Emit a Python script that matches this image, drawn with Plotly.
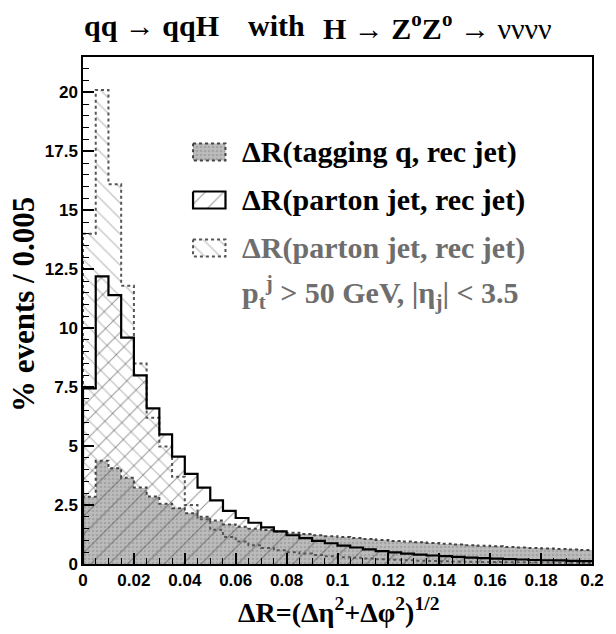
import numpy as np
import plotly.graph_objects as go

# ---------------- data ----------------
bin_width = 0.005
n_bins = 40
edges = [round(i * bin_width, 3) for i in range(n_bins + 1)]
centers = [round((i + 0.5) * bin_width, 4) for i in range(n_bins)]

# dR(tagging q, rec jet)  (grey filled)
tagging_q = [2.85, 4.38, 4.06, 3.66, 3.24, 2.86, 2.55, 2.36, 2.15, 2.00,
             1.84, 1.68, 1.58, 1.50, 1.44, 1.38, 1.32, 1.27, 1.22, 1.18,
             1.14, 1.10, 1.06, 1.02, 0.98, 0.95, 0.92, 0.89, 0.86, 0.83,
             0.80, 0.77, 0.75, 0.72, 0.70, 0.68, 0.66, 0.64, 0.62, 0.59]
# dR(parton jet, rec jet)  (black, '/' hatch)
parton_jet = [7.45, 12.2, 11.4, 9.6, 8.0, 6.6, 5.5, 4.55, 3.82, 3.24,
              2.70, 2.25, 1.95, 1.75, 1.55, 1.38, 1.22, 1.10, 0.98, 0.88,
              0.78, 0.70, 0.62, 0.55, 0.49, 0.44, 0.40, 0.36, 0.33, 0.30,
              0.27, 0.25, 0.23, 0.21, 0.19, 0.17, 0.16, 0.15, 0.13, 0.12]
# dR(parton jet, rec jet) with pt / eta cuts (grey, '\' hatch)
parton_jet_cut = [14.0, 20.1, 16.1, 11.8, 8.5, 6.2, 4.98, 3.7, 2.5, 1.9,
                  1.45, 1.15, 0.95, 0.80, 0.68, 0.58, 0.50, 0.44, 0.38, 0.33,
                  0.29, 0.26, 0.23, 0.20, 0.18, 0.16, 0.14, 0.13, 0.12, 0.11,
                  0.10, 0.09, 0.08, 0.07, 0.07, 0.06, 0.06, 0.05, 0.05, 0.04]

legend_labels = ["ΔR(tagging q, rec jet)", "ΔR(parton jet, rec jet)",
                 "ΔR(parton jet, rec jet)"]
legend_note = "p<sub>t</sub><sup>j</sup> &gt; 50 GeV, |η<sub>j</sub>| &lt; 3.5"


def step_xy(vals):
    xs = [edges[0]] + edges[:-1] + [edges[-1]]
    ys = [0] + list(vals) + [vals[-1]]
    return xs, ys


fig = go.Figure()

# '\' hatched histogram (with cuts)
fig.add_trace(go.Bar(x=centers, y=parton_jet_cut, width=bin_width,
                     marker=dict(color="white", line=dict(width=0),
                                 pattern=dict(shape="\\", fgcolor="#8a8a8a",
                                              bgcolor="white", size=11,
                                              solidity=0.12)),
                     showlegend=False))
xs, ys = step_xy(parton_jet_cut)
fig.add_trace(go.Scatter(x=xs, y=ys, mode="lines", line_shape="hv",
                         line=dict(color="#555555", width=2, dash="dot"),
                         showlegend=False))

# grey filled histogram
fig.add_trace(go.Bar(x=centers, y=tagging_q, width=bin_width,
                     marker=dict(color="#b4b4b4", line=dict(width=0),
                                 pattern=dict(shape=".", fgcolor="#8c8c8c",
                                              bgcolor="#bcbcbc", size=4,
                                              solidity=0.35)),
                     showlegend=False))
xs, ys = step_xy(tagging_q)
fig.add_trace(go.Scatter(x=xs, y=ys, mode="lines", line_shape="hv",
                         line=dict(color="#444444", width=2, dash="dot"),
                         showlegend=False))

# '/' hatched histogram (black)
fig.add_trace(go.Bar(x=centers, y=parton_jet, width=bin_width,
                     marker=dict(color="black", line=dict(width=0),
                                 pattern=dict(shape="/", fgcolor="#333333",
                                              bgcolor="rgba(0,0,0,0)", size=13,
                                              solidity=0.08)),
                     showlegend=False))
xs, ys = step_xy(parton_jet)
fig.add_trace(go.Scatter(x=xs, y=ys, mode="lines", line_shape="hv",
                         line=dict(color="black", width=2.2),
                         showlegend=False))

# ---------------- legend (overlay pixel axes) ----------------
L, R, T, B = 83, 601, 57, 564
rows = [152, 200, 248]
box_x0, box_x1, box_h = 195, 228, 17
swatch = [
    dict(fillpattern=dict(shape=".", fgcolor="#8c8c8c", bgcolor="#bcbcbc",
                          size=4, solidity=0.35),
         line=dict(color="#444444", width=2, dash="dot")),
    dict(fillpattern=dict(shape="/", fgcolor="#333333", bgcolor="white",
                          size=13, solidity=0.08),
         line=dict(color="black", width=2.2)),
    dict(fillpattern=dict(shape="\\", fgcolor="#8a8a8a", bgcolor="white",
                          size=11, solidity=0.12),
         line=dict(color="#555555", width=2, dash="dot")),
]
for yc, sw in zip(rows, swatch):
    y0, y1 = yc - box_h / 2, yc + box_h / 2
    fig.add_trace(go.Scatter(x=[box_x0, box_x1, box_x1, box_x0, box_x0],
                             y=[y0, y0, y1, y1, y0], mode="lines",
                             fill="toself", fillcolor="white",
                             fillpattern=sw["fillpattern"], line=sw["line"],
                             xaxis="x2", yaxis="y2", showlegend=False,
                             hoverinfo="skip"))

annotations = []
serif_b = dict(family="Liberation Serif", size=30, color="black", weight="bold")
for yc, lab, col in zip(rows, legend_labels, ["black", "black", "#6e6e6e"]):
    annotations.append(dict(x=243, y=yc, xref="x2", yref="y2", text=lab,
                            showarrow=False, xanchor="left", yanchor="middle",
                            font=dict(serif_b, color=col)))
annotations.append(dict(x=243, y=292, xref="x2", yref="y2", text=legend_note,
                        showarrow=False, xanchor="left", yanchor="middle",
                        font=dict(serif_b, color="#6e6e6e")))


def px(xp):
    return (xp - L) / (R - L)


def py(yp):
    return (B - yp) / (B - T)


title_font = dict(family="Liberation Serif", size=30, color="black", weight="bold")
annotations.append(dict(x=px(82), y=py(26), xref="paper", yref="paper",
                        text="qq → qqH", showarrow=False, xanchor="left",
                        yanchor="middle", font=title_font))
annotations.append(dict(x=px(249), y=py(26), xref="paper", yref="paper",
                        text="with", showarrow=False, xanchor="left",
                        yanchor="middle", font=title_font))
annotations.append(dict(x=px(325), y=py(26), xref="paper", yref="paper",
                        text="H → Z<sup>o</sup>Z<sup>o</sup> → <span style='font-weight:normal'>νννν</span>",
                        showarrow=False, xanchor="left",
                        yanchor="middle", font=title_font))
annotations.append(dict(x=px(343), y=py(610), xref="paper", yref="paper",
                        text="ΔR=(Δη<sup>2</sup>+Δφ<sup>2</sup>)<sup>1/2</sup>",
                        showarrow=False, xanchor="center", yanchor="middle",
                        font=dict(title_font, size=28)))
annotations.append(dict(x=px(22), y=py(305), xref="paper", yref="paper",
                        text="% events / 0.005", textangle=-90,
                        showarrow=False, xanchor="center", yanchor="middle",
                        font=dict(title_font, size=31)))

tick_font = dict(family="Liberation Sans", size=17, color="black", weight="bold")
fig.update_layout(
    width=616, height=634,
    margin=dict(l=L, r=616 - R, t=T, b=634 - B, pad=0),
    paper_bgcolor="white", plot_bgcolor="white",
    barmode="overlay", bargap=0,
    showlegend=False,
    annotations=annotations,
    xaxis=dict(range=[0, 0.2], tick0=0, dtick=0.02, ticks="inside",
               ticklen=11, tickwidth=1.5, tickcolor="black",
               minor=dict(tick0=0, dtick=0.005, ticks="inside", ticklen=6,
                          tickcolor="black", tickwidth=1.2),
               showline=True, linecolor="black", linewidth=1.5, mirror=True,
               showgrid=False, zeroline=False, tickfont=tick_font),
    yaxis=dict(range=[0, 21.5], tick0=0, dtick=2.5, ticks="inside",
               ticklen=11, tickwidth=1.5, tickcolor="black",
               minor=dict(tick0=0, dtick=0.5, ticks="inside", ticklen=6,
                          tickcolor="black", tickwidth=1.2),
               showline=True, linecolor="black", linewidth=1.5, mirror=True,
               showgrid=False, zeroline=False, tickfont=tick_font),
    xaxis2=dict(range=[L, R], overlaying="x", visible=False),
    yaxis2=dict(range=[B, T], overlaying="y", visible=False),
)

fig.write_html("out.html")
